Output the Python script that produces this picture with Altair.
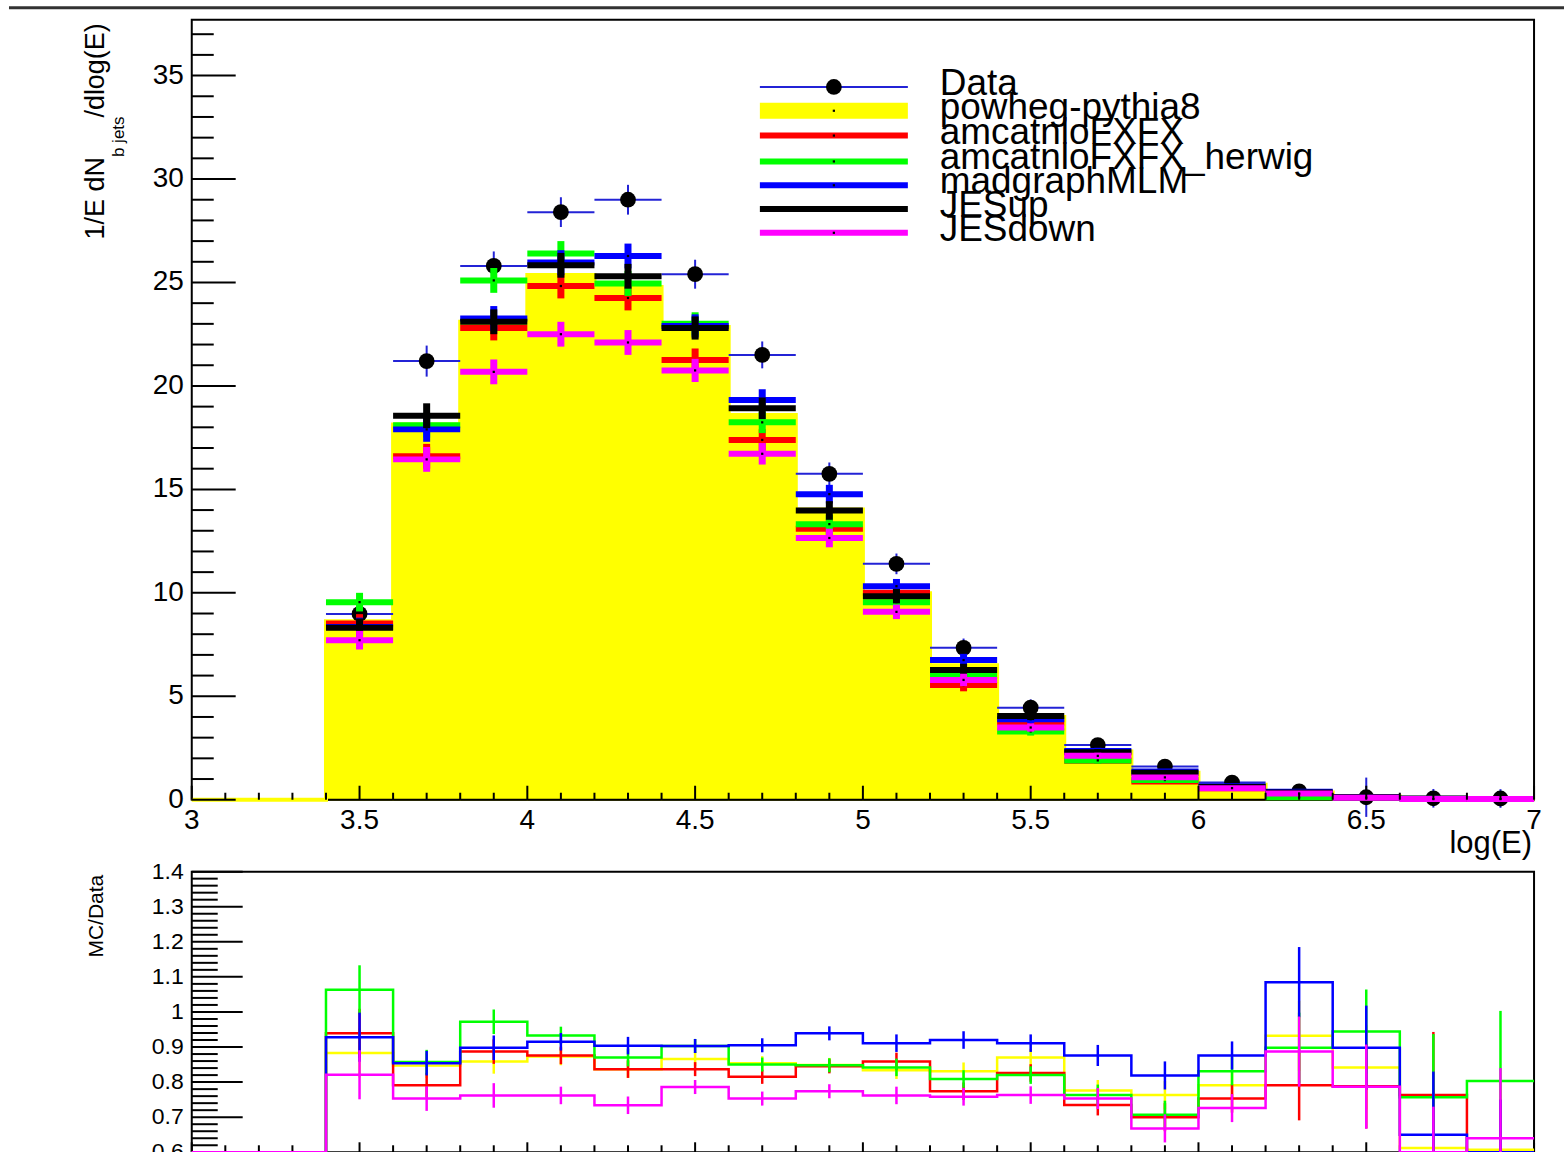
import altair as alt
import pandas as pd

FONT = "Liberation Sans"

# ---- binning in log(E) ----
edges = [3.0, 3.2, 3.4, 3.6, 3.8, 4.0, 4.2, 4.4, 4.6, 4.8, 5.0,
         5.2, 5.4, 5.6, 5.8, 6.0, 6.2, 6.4, 6.6, 6.8, 7.0]

# ---- upper panel: 1/E dN/dlog(E) ----
data_vals = [0, 0, 8.98, 21.2, 25.8, 28.4, 29.0, 25.4, 21.5, 15.75,
             11.4, 7.34, 4.45, 2.64, 1.6, 0.83, 0.4, 0.12, 0.07, 0.06]
data_err = [0, 0, 0.6, 0.75, 0.7, 0.72, 0.72, 0.7, 0.65, 0.55,
            0.5, 0.45, 0.4, 0.3, 0.25, 0.2, 0.3, 0.95, 0.45, 0.45]

powheg = [0, 0, 8.63, 18.13, 23.1, 25.36, 24.78, 22.85, 18.6, 14.03,
          9.98, 6.5, 4.0, 2.33, 1.3, 0.72, 0.35, 0.15, 0.07, 0.04]
amcatnlo = [0, 0, 8.52, 16.6, 22.8, 24.83, 24.25, 21.25, 17.39, 13.1,
            10.0, 5.54, 3.73, 1.88, 0.88, 0.56, 0.3, 0.1, 0.05, 0.03]
herwig = [0, 0, 9.55, 18.1, 25.1, 26.4, 24.95, 23.0, 18.24, 13.32,
          9.55, 5.98, 3.3, 1.9, 0.95, 0.6, 0.12, 0.11, 0.05, 0.04]
madgraph = [0, 0, 8.35, 17.9, 23.26, 25.96, 26.28, 22.9, 19.32, 14.77,
            10.32, 6.75, 3.89, 2.36, 1.37, 0.65, 0.38, 0.12, 0.05, 0.03]
jes_up = [0, 0, 8.31, 18.56, 23.1, 25.83, 25.3, 22.8, 18.92, 13.98,
          9.84, 6.27, 4.05, 2.3, 1.3, 0.62, 0.35, 0.12, 0.05, 0.04]
jes_down = [0, 0, 7.71, 16.45, 20.68, 22.5, 22.1, 20.75, 16.72, 12.65,
            9.08, 5.79, 3.49, 2.12, 1.08, 0.56, 0.3, 0.1, 0.03, 0.03]
mc_err = [0, 0, 0.45, 0.6, 0.6, 0.6, 0.6, 0.56, 0.52, 0.45,
          0.35, 0.3, 0.2, 0.15, 0.1, 0.07, 0.05, 0.03, 0.02, 0.02]

# ---- lower panel: MC/Data ----
r_powheg = [0, 0, 0.883, 0.847, 0.859, 0.873, 0.837, 0.866, 0.854, 0.849,
            0.834, 0.831, 0.870, 0.776, 0.763, 0.791, 0.932, 0.842, 0.612, 0.607]
r_amcatnlo = [0, 0, 0.939, 0.791, 0.887, 0.876, 0.837, 0.837, 0.815, 0.845,
              0.859, 0.774, 0.826, 0.735, 0.70, 0.753, 0.791, 0.788, 0.763, 0.55]
r_herwig = [0, 0, 1.063, 0.857, 0.972, 0.933, 0.870, 0.903, 0.850, 0.848,
            0.842, 0.809, 0.82, 0.763, 0.707, 0.831, 0.898, 0.944, 0.757, 0.803]
r_madgraph = [0, 0, 0.928, 0.854, 0.898, 0.915, 0.904, 0.903, 0.905, 0.939,
              0.911, 0.920, 0.911, 0.876, 0.819, 0.876, 1.085, 0.898, 0.650, 0.55]
r_jes_down = [0, 0, 0.821, 0.753, 0.762, 0.762, 0.734, 0.786, 0.753, 0.774,
              0.762, 0.758, 0.763, 0.753, 0.668, 0.726, 0.887, 0.787, 0.55, 0.640]
ratio_err = [0, 0, 0.07, 0.035, 0.035, 0.025, 0.025, 0.02, 0.02, 0.02,
             0.025, 0.025, 0.025, 0.03, 0.04, 0.04, 0.1, 0.12, 0.18, 0.2]

# ---- axis ticks ----
x_major = [3, 3.5, 4, 4.5, 5, 5.5, 6, 6.5, 7]
x_minor = [round(3 + 0.1 * i, 1) for i in range(41)]
y_major = [0, 5, 10, 15, 20, 25, 30, 35]
y_minor = list(range(0, 38))
r_major = [0.6, 0.7, 0.8, 0.9, 1.0, 1.1, 1.2, 1.3, 1.4]
r_minor = [round(0.6 + 0.02 * i, 2) for i in range(41)]

# ---- legend ----
legend_names = ["Data", "powheg-pythia8", "amcatnloFXFX", "amcatnloFXFX_herwig",
                "madgraphMLM", "JESup", "JESdown"]
legend_y = [34.45, 33.3, 32.1, 30.85, 29.7, 28.55, 27.4]
legend_x = [4.693, 5.134, 5.229]

W, H_TOP, H_RAT = 1344, 781, 281
YELLOW, RED, GREEN, BLUE, BLACK, MAGENTA = "#ffff00", "#ff0000", "#00ff00", "#0000ff", "#000000", "#ff00ff"
ERRBLUE = "#2323d6"

xs = alt.Scale(domain=[3, 7], nice=False, zero=False)
ys = alt.Scale(domain=[0, 37.7], nice=False, zero=False)
rs = alt.Scale(domain=[0.6, 1.4], nice=False, zero=False, clamp=True)


def bins_frame(vals, errs):
    lo, hi = edges[:-1], edges[1:]
    df = pd.DataFrame({"lo": lo, "hi": hi, "v": vals, "e": errs})
    df["c"] = (df["lo"] + df["hi"]) / 2
    df["v_lo"] = df["v"] - df["e"]
    df["v_hi"] = df["v"] + df["e"]
    return df


def step_frame(vals):
    return pd.DataFrame({"x": edges, "v": list(vals) + [vals[-1]]})


def tick_labels(values):
    return pd.DataFrame({"t": values, "s": [f"{v:g}" for v in values]})


one = pd.DataFrame({"k": [0]})


def label(txt, x, y, size, angle=0, align="left"):
    return alt.Chart(pd.DataFrame({"t": [txt]})).mark_text(
        font=FONT, fontSize=size, angle=angle, align=align, baseline="alphabetic", color="black"
    ).encode(x=alt.value(x), y=alt.value(y), text="t:N")


# ================= upper panel =================
pow_df = bins_frame(powheg, [0] * 20)
top_layers = []

# powheg-pythia8 filled histogram
top_layers.append(
    alt.Chart(pow_df).mark_rect(color=YELLOW, stroke=YELLOW, strokeWidth=1.5).encode(
        x=alt.X("lo:Q", scale=xs, axis=None), x2="hi:Q",
        y=alt.Y("v:Q", scale=ys, axis=None), y2=alt.datum(0))
)
# bottom axis line
top_layers.append(
    alt.Chart(one).mark_rule(color="black", strokeWidth=2).encode(
        x=alt.value(0), x2=alt.value(W), y=alt.value(H_TOP))
)
# histogram outline
top_layers.append(
    alt.Chart(step_frame(powheg)).mark_line(color=YELLOW, strokeWidth=4, interpolate="step-after").encode(
        x=alt.X("x:Q", scale=xs, axis=None), y=alt.Y("v:Q", scale=ys, axis=None))
)

# data points with error bars
dat_df = bins_frame(data_vals, data_err)
dat_df = dat_df[dat_df["v"] > 0]
top_layers += [
    alt.Chart(dat_df).mark_rule(color=ERRBLUE, strokeWidth=2).encode(
        x=alt.X("lo:Q", scale=xs, axis=None), x2="hi:Q", y=alt.Y("v:Q", scale=ys, axis=None)),
    alt.Chart(dat_df).mark_rule(color=ERRBLUE, strokeWidth=2).encode(
        x=alt.X("c:Q", scale=xs, axis=None), y=alt.Y("v_lo:Q", scale=ys, axis=None), y2="v_hi:Q"),
    alt.Chart(dat_df).mark_point(filled=True, color="black", size=250, opacity=1, shape="circle").encode(
        x=alt.X("c:Q", scale=xs, axis=None), y=alt.Y("v:Q", scale=ys, axis=None)),
]

# other generators and JES variations as bin-wide markers with error bars
for vals, col in [(amcatnlo, RED), (herwig, GREEN), (madgraph, BLUE), (jes_up, BLACK), (jes_down, MAGENTA)]:
    df = bins_frame(vals, mc_err)
    df = df[df["v"] > 0]
    top_layers += [
        alt.Chart(df).mark_rule(color=col, strokeWidth=6).encode(
            x=alt.X("lo:Q", scale=xs, axis=None), x2="hi:Q", y=alt.Y("v:Q", scale=ys, axis=None)),
        alt.Chart(df).mark_rule(color=col, strokeWidth=7).encode(
            x=alt.X("c:Q", scale=xs, axis=None), y=alt.Y("v_lo:Q", scale=ys, axis=None), y2="v_hi:Q"),
        alt.Chart(df).mark_point(filled=True, color="black", size=5, opacity=1, shape="square").encode(
            x=alt.X("c:Q", scale=xs, axis=None), y=alt.Y("v:Q", scale=ys, axis=None)),
    ]

# inner ticks
xt_major = pd.DataFrame({"t": x_major})
xt_minor = pd.DataFrame({"t": [t for t in x_minor if round(t * 2, 6) != round(t * 2)]})
yt_major = pd.DataFrame({"t": y_major})
yt_minor = pd.DataFrame({"t": [t for t in y_minor if t % 5 != 0]})
top_layers += [
    alt.Chart(xt_major).mark_rule(color="black", strokeWidth=2).encode(
        x=alt.X("t:Q", scale=xs, axis=None), y=alt.value(H_TOP), y2=alt.value(H_TOP - 14)),
    alt.Chart(xt_minor).mark_rule(color="black", strokeWidth=2).encode(
        x=alt.X("t:Q", scale=xs, axis=None), y=alt.value(H_TOP), y2=alt.value(H_TOP - 7)),
    alt.Chart(yt_major).mark_rule(color="black", strokeWidth=2).encode(
        y=alt.Y("t:Q", scale=ys, axis=None), x=alt.value(0), x2=alt.value(44)),
    alt.Chart(yt_minor).mark_rule(color="black", strokeWidth=2).encode(
        y=alt.Y("t:Q", scale=ys, axis=None), x=alt.value(0), x2=alt.value(22)),
    # tick labels
    alt.Chart(tick_labels(x_major)).mark_text(font=FONT, fontSize=28, align="center", baseline="top",
                                              color="black").encode(
        x=alt.X("t:Q", scale=xs, axis=None), y=alt.value(H_TOP + 7), text="s:N"),
    alt.Chart(tick_labels(y_major)).mark_text(font=FONT, fontSize=28, align="right", baseline="middle",
                                              color="black").encode(
        y=alt.Y("t:Q", scale=ys, axis=None), x=alt.value(-8), text="s:N"),
]

# legend
leg = pd.DataFrame({"name": legend_names, "y": legend_y,
                    "x0": legend_x[0], "x1": legend_x[1], "xt": legend_x[2]})
leg["xc"] = (leg["x0"] + leg["x1"]) / 2
leg_widths = [2, 16, 6, 6, 6, 6, 6]
leg_colors = [ERRBLUE, YELLOW, RED, GREEN, BLUE, BLACK, MAGENTA]
for i in range(len(legend_names)):
    row = leg.iloc[[i]]
    top_layers.append(
        alt.Chart(row).mark_rule(color=leg_colors[i], strokeWidth=leg_widths[i]).encode(
            x=alt.X("x0:Q", scale=xs, axis=None), x2="x1:Q", y=alt.Y("y:Q", scale=ys, axis=None)))
top_layers += [
    alt.Chart(leg.iloc[[0]]).mark_point(filled=True, color="black", size=250, opacity=1, shape="circle").encode(
        x=alt.X("xc:Q", scale=xs, axis=None), y=alt.Y("y:Q", scale=ys, axis=None)),
    alt.Chart(leg.iloc[1:]).mark_point(filled=True, color="black", size=5, opacity=1, shape="square").encode(
        x=alt.X("xc:Q", scale=xs, axis=None), y=alt.Y("y:Q", scale=ys, axis=None)),
    alt.Chart(leg).mark_text(font=FONT, fontSize=37, align="left", baseline="alphabetic", dy=8, color="black").encode(
        x=alt.X("xt:Q", scale=xs, axis=None), y=alt.Y("y:Q", scale=ys, axis=None), text="name:N"),
]

# axis titles
top_layers += [
    label("log(E)", W - 2, 834, 31, align="right"),
    label("1/E dN", -88, 220, 27, angle=270),
    label("b jets", -68, 137.5, 17, angle=270),
    label("/dlog(E)", -88, 98, 27, angle=270),
    # rule across the very top of the canvas
    alt.Chart(one).mark_rule(color="#333333", strokeWidth=3).encode(
        x=alt.value(-183), x2=alt.value(1374), y=alt.value(-12)),
    # fixes the canvas origin
    alt.Chart(one).mark_rule(strokeWidth=0, opacity=0).encode(
        x=alt.value(-191), x2=alt.value(-190), y=alt.value(-18)),
]

top = alt.layer(*top_layers).properties(width=W, height=H_TOP)

# ================= ratio panel =================
rat_layers = [
    alt.Chart(pd.DataFrame({"t": r_major})).mark_rule(color="black", strokeWidth=2).encode(
        y=alt.Y("t:Q", scale=rs, axis=None), x=alt.value(0), x2=alt.value(51)),
    alt.Chart(pd.DataFrame({"t": [t for t in r_minor if t not in r_major]})).mark_rule(
        color="black", strokeWidth=2).encode(
        y=alt.Y("t:Q", scale=rs, axis=None), x=alt.value(0), x2=alt.value(26)),
    alt.Chart(xt_major).mark_rule(color="black", strokeWidth=2).encode(
        x=alt.X("t:Q", scale=xs, axis=None), y=alt.value(H_RAT), y2=alt.value(H_RAT - 10)),
    alt.Chart(xt_minor).mark_rule(color="black", strokeWidth=2).encode(
        x=alt.X("t:Q", scale=xs, axis=None), y=alt.value(H_RAT), y2=alt.value(H_RAT - 7)),
    alt.Chart(tick_labels(r_major)).mark_text(font=FONT, fontSize=23, align="right", baseline="middle",
                                              color="black").encode(
        y=alt.Y("t:Q", scale=rs, axis=None), x=alt.value(-8), text="s:N"),
]

for vals, col in [(r_powheg, YELLOW), (r_amcatnlo, RED), (r_herwig, GREEN),
                  (r_madgraph, BLUE), (r_jes_down, MAGENTA)]:
    df = bins_frame(vals, ratio_err)
    df = df[df["v"] > 0]
    rat_layers += [
        alt.Chart(step_frame(vals)).mark_line(color=col, strokeWidth=2.5, interpolate="step-after").encode(
            x=alt.X("x:Q", scale=xs, axis=None), y=alt.Y("v:Q", scale=rs, axis=None)),
        alt.Chart(df).mark_rule(color=col, strokeWidth=2.5).encode(
            x=alt.X("c:Q", scale=xs, axis=None), y=alt.Y("v_lo:Q", scale=rs, axis=None), y2="v_hi:Q"),
    ]

rat_layers.append(label("MC/Data", -89, 86, 21, angle=270))

ratio = alt.layer(*rat_layers).properties(width=W, height=H_RAT)

chart = alt.vconcat(top, ratio, spacing=72, bounds="flush").properties(
    padding=0, autosize=alt.AutoSizeParams(type="pad")
).configure_view(stroke="black", strokeWidth=2)

chart.save("out.html", embed_options={"renderer": "svg", "actions": False})
